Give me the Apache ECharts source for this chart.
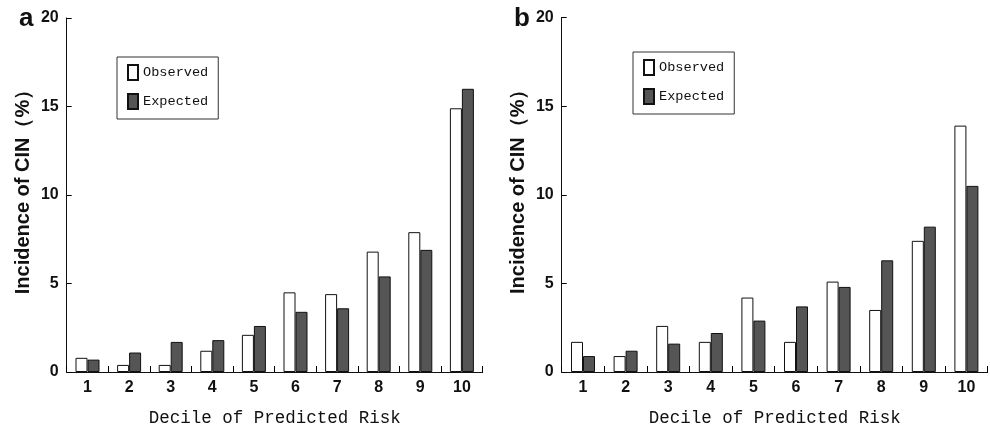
<!DOCTYPE html>
<html>
<head>
<meta charset="utf-8">
<script src="https://cdn.jsdelivr.net/npm/echarts@6/dist/echarts.min.js"></script>
<style>
html,body{margin:0;padding:0;background:#fff;}
#c{width:990px;height:432px;}
</style>
</head>
<body>
<div id="c"></div>
<script>
var categories = ['1','2','3','4','5','6','7','8','9','10'];
var observedA = [0.8, 0.4, 0.4, 1.2, 2.1, 4.5, 4.4, 6.8, 7.9, 14.9];
var expectedA = [0.7, 1.1, 1.7, 1.8, 2.6, 3.4, 3.6, 5.4, 6.9, 16.0];
var observedB = [1.7, 0.9, 2.6, 1.7, 4.2, 1.7, 5.1, 3.5, 7.4, 13.9];
var expectedB = [0.9, 1.2, 1.6, 2.2, 2.9, 3.7, 4.8, 6.3, 8.2, 10.5];
var panelLabels = ['a', 'b'];
var seriesNames = ['Observed', 'Expected'];
var xTitle = 'Decile of Predicted Risk';
var yTitle = 'Incidence of CIN（%）';

var chart = echarts.init(document.getElementById('c'), null, {renderer: 'canvas'});

var ink = '#111111';
var labelFont = {fontFamily: 'Liberation Sans, Arial, sans-serif', fontWeight: 'bold', fontSize: 16, color: ink};

function xAxisDef(gi) {
  return {
    type: 'category', gridIndex: gi, data: categories,
    axisLine: {lineStyle: {color: ink, width: 1}},
    axisTick: {show: true, inside: true, length: 6, lineStyle: {color: '#000', width: 1}},
    axisLabel: Object.assign({margin: 8}, labelFont),
    name: xTitle, nameLocation: 'middle', nameGap: 37,
    nameTextStyle: {fontFamily: 'Liberation Mono, monospace', fontSize: 17.5, color: ink}
  };
}
function yAxisDef(gi) {
  return {
    type: 'value', gridIndex: gi, min: 0, max: 20, interval: 5,
    axisLine: {show: true, lineStyle: {color: ink, width: 1}},
    axisTick: {show: true, inside: true, length: 5, lineStyle: {color: '#000', width: 1}},
    splitLine: {show: false},
    axisLabel: Object.assign({margin: 8}, labelFont),
    name: yTitle, nameLocation: 'middle', nameGap: 33,
    nameTextStyle: {fontFamily: 'Liberation Sans, Arial, sans-serif', fontWeight: 'bold', fontSize: 20, color: ink, padding: [0, 0, 0, 16]}
  };
}
function legendDef(left, top) {
  return {
    data: seriesNames, orient: 'vertical', left: left, top: top,
    icon: 'rect', itemWidth: 10, itemHeight: 15, itemGap: 12,
    padding: [7, 10, 9, 10],
    borderColor: '#333', borderWidth: 1, backgroundColor: '#fff',
    textStyle: {fontFamily: 'Liberation Mono, monospace', fontSize: 13.6, lineHeight: 16, color: ink}
  };
}
var obsStyle = {color: '#ffffff', borderColor: ink, borderWidth: 1};
var expStyle = {color: '#555555', borderColor: ink, borderWidth: 1};
function bars(name, data, gi, style) {
  return {
    type: 'bar', name: name, data: data, xAxisIndex: gi, yAxisIndex: gi,
    barWidth: 12, barGap: '0%', itemStyle: style, animation: false
  };
}

chart.setOption({
  animation: false,
  backgroundColor: '#ffffff',
  title: [
    {text: panelLabels[0], left: 14, top: 1, textStyle: {fontFamily: 'Liberation Sans, Arial, sans-serif', fontWeight: 'bold', fontSize: 26, color: ink}},
    {text: panelLabels[1], left: 509, top: 1, textStyle: {fontFamily: 'Liberation Sans, Arial, sans-serif', fontWeight: 'bold', fontSize: 26, color: ink}}
  ],
  grid: [
    {left: 66.7, top: 18, width: 416, height: 357},
    {left: 561.7, top: 17.5, width: 426, height: 358.5}
  ],
  legend: [legendDef(117, 57), legendDef(633, 52)],
  xAxis: [xAxisDef(0), xAxisDef(1)],
  yAxis: [yAxisDef(0), yAxisDef(1)],
  series: [
    bars(seriesNames[0], observedA, 0, obsStyle),
    bars(seriesNames[1], expectedA, 0, expStyle),
    bars(seriesNames[0], observedB, 1, obsStyle),
    bars(seriesNames[1], expectedB, 1, expStyle)
  ]
});
</script>
</body>
</html>
